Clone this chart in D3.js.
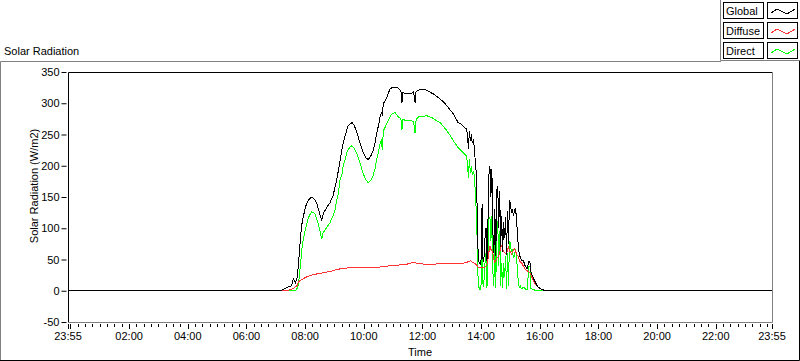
<!DOCTYPE html>
<html>
<head>
<meta charset="utf-8">
<script src="https://cdnjs.cloudflare.com/ajax/libs/d3/7.8.5/d3.min.js"></script>
<style>
body { margin: 0; background: #fff; }
svg { display: block; font-family: "Liberation Sans", Arial, sans-serif; font-size: 11px; }
</style>
</head>
<body>
<div id="chart1"></div>
<script>
// readings, W/m2 (first 23:55 is the previous day)
var times = ["23:55","07:10","07:22","07:32","07:36","07:40","07:44","07:46","07:48","07:51","07:53","07:56",
  "08:00","08:03","08:07","08:10","08:13","08:17","08:20","08:24","08:27","08:30","08:34","08:37","08:44","08:51","08:57",
  "09:01","09:04","09:08","09:11","09:15","09:18","09:22","09:25","09:28","09:32","09:36","09:40","09:45","09:52","09:59",
  "10:04","10:09","10:14","10:19","10:23","10:26","10:30","10:33","10:36","10:38","10:40","10:44","10:47","10:50","10:54","10:58",
  "11:04","11:08","11:11","11:16","11:18","11:20","11:24","11:31","11:38","11:42","11:45","11:47","11:52",
  "12:00","12:09","12:15","12:22","12:29","12:36","12:43","12:50","12:57",
  "13:03","13:08","13:13","13:18","13:23","13:27","13:30","13:32","13:34","13:36","13:38","13:40","13:42","13:44","13:46","13:48",
  "13:50","13:52","13:54","13:56","13:58",
  "14:00","14:02","14:04","14:06","14:08","14:10","14:12","14:14","14:16","14:18","14:20","14:22","14:24","14:26","14:28","14:30",
  "14:32","14:34","14:36","14:38","14:40","14:42","14:44","14:46","14:48","14:50","14:52","14:54","14:56","14:58",
  "15:00","15:02","15:04","15:06","15:08","15:10","15:12","15:14","15:16","15:18","15:20","15:22","15:24","15:26","15:28","15:30",
  "15:34","15:38","15:40","15:42","15:46","15:50","15:56",
  "16:02","16:08","16:12","23:55"];

var globalRad = [0,0,5,8,19,13,21,40,59,88,105,117,
  132,139,145,148,149,148,145,139,131,123,112,123,133,141,152,
  165,176,192,206,225,237,248,257,264,267,269,265,256,237,221,
  213,210,215,224,237,251,264,277,285,282,299,305,309,316,323,325,
  326,325,324,320,300,317,316,316,316,318,301,319,321,
  322,321,318,315,311,307,302,296,289,
  283,276,269,267,264,260,259,250,227,256,240,250,236,240,230,208,
  190,130,55,45,42,
  50,139,46,55,85,101,48,110,185,200,150,195,95,60,130,55,
  160,168,100,160,70,120,62,110,85,118,58,128,75,145,
  140,125,130,120,126,132,120,95,72,58,54,50,48,48,45,40,
  35,48,45,30,22,15,6,
  3,1,0,0];

var diffuseRad = [0,0,0,2,4,6,9,13,15,17,18,19,
  21,22,23,24,25,26,26,27,27,27,28,29,30,31,32,
  33,34,34,35,35,36,36,36,37,37,37,37,37,37,37,
  37,37,37,38,38,38,38,38,39,39,39,39,39,40,40,40,
  40,41,41,42,42,42,42,43,45,46,45,44,43,
  43,42,42,42,43,43,43,43,43,
  43,44,44,44,44,45,46,46,47,47,48,47,46,45,44,43,
  42,40,38,38,38,
  38,38,38,38,38,40,42,50,62,72,66,64,60,50,45,48,
  52,53,55,62,68,72,66,63,61,60,58,66,69,64,
  62,59,62,65,67,64,60,56,55,50,46,45,43,40,38,35,
  32,30,28,25,18,12,6,
  3,1,0,0];

var directRad = [0,0,0,0,0,0,4,8,22,45,64,82,
  96,106,117,122,126,125,124,114,107,97,83,93,101,109,120,
  128,142,155,176,185,200,210,221,226,230,232,228,221,205,187,
  178,173,176,184,195,208,222,235,240,225,256,262,268,272,279,283,
  285,281,278,275,258,274,273,272,272,270,252,274,278,
  279,280,278,276,272,269,263,256,248,
  240,235,229,225,221,218,216,205,181,210,188,200,186,192,184,160,
  128,80,12,4,2,
  10,95,6,17,45,60,5,60,115,118,80,120,30,8,80,5,
  108,112,40,95,8,45,4,45,22,55,3,60,8,80,
  75,62,66,52,56,66,58,36,15,5,8,4,3,6,5,3,
  2,40,38,4,2,1,0,
  0,0,0,0];

var xTickLabels = ["23:55","02:00","04:00","06:00","08:00","10:00","12:00","14:00","16:00","18:00","20:00","22:00","23:55"];
var yTicks = [-50,0,50,100,150,200,250,300,350];
var seriesNames = ["Global","Diffuse","Direct"];
var seriesColors = ["#000000","#ff3333","#00ff00"];

// minutes since the 23:55 start
function toMinutes(s, i) {
  var p = s.split(":");
  var m = (+p[0] * 60 + +p[1] + 5) % 1440;
  return (i > 0 && m === 0) ? 1440 : m;
}

var width = 800, height = 361;
var plot = {left: 68, right: 772, top: 72, bottom: 322};

var svg = d3.select("#chart1").append("svg")
  .attr("width", width)
  .attr("height", height);

var x = d3.scaleLinear().domain([0, 1440]).range([plot.left, plot.right]);
var y = d3.scaleLinear().domain([-50, 350]).range([plot.bottom, plot.top]);

// outer panel frame
svg.append("path").attr("d", "M0.5,360.5V61.5H721").attr("fill", "none").attr("stroke", "#808080");
svg.append("path").attr("d", "M0,360.5H799.5V61").attr("fill", "none").attr("stroke", "#000");
svg.append("path").attr("d", "M720.5,0V60.5H800").attr("fill", "none").attr("stroke", "#808080");

svg.append("text")
  .attr("x", 4).attr("y", 55)
  .text("Solar Radiation");

// y axis
var yAxis = d3.axisLeft(y).tickValues(yTicks).tickSize(5).tickPadding(2)
  .tickFormat(d => String(d));
var gy = svg.append("g")
  .attr("transform", "translate(66.5,0)")
  .call(yAxis);
gy.select(".domain").remove();
gy.selectAll("text").style("font-size", "11px").style("font-family", "inherit");

// x axis, minor + major ticks
var majors = xTickLabels.map(toMinutes);
var minors = d3.range(5, 1440, 15).filter(function(m) { return majors.indexOf(m) < 0; });
var gx = svg.append("g").attr("transform", "translate(0," + (plot.bottom + 1) + ")");
gx.selectAll(".minor").data(minors).enter().append("line")
  .attr("x1", d => Math.round(x(d)) + 0.5).attr("x2", d => Math.round(x(d)) + 0.5)
  .attr("y1", 1).attr("y2", 4)
  .attr("stroke", "#000");
gx.selectAll(".major").data(majors).enter().append("line")
  .attr("x1", d => Math.round(x(d)) + 0.5).attr("x2", d => Math.round(x(d)) + 0.5)
  .attr("y1", 1).attr("y2", 6)
  .attr("stroke", "#000");
// 00:00 tick beside the start
gx.append("line")
  .attr("x1", Math.round(x(5)) + 0.5).attr("x2", Math.round(x(5)) + 0.5)
  .attr("y1", 1).attr("y2", 6)
  .attr("stroke", "#000");
gx.selectAll(".lbl").data(xTickLabels).enter().append("text")
  .attr("x", (d, i) => x(toMinutes(d, i)))
  .attr("y", 17)
  .attr("text-anchor", "middle")
  .text(d => d);

svg.append("text")
  .attr("x", (plot.left + plot.right) / 2).attr("y", 356)
  .attr("text-anchor", "middle")
  .text("Time");

svg.append("text")
  .attr("transform", "translate(38,186)rotate(-90)")
  .attr("text-anchor", "middle")
  .text("Solar Radiation (W/m2)");

// data lines
var line = d3.line()
  .x(d => x(d.t))
  .y(d => y(d.v));

var series = [globalRad, diffuseRad, directRad];
var order = [2, 1, 0];
order.forEach(function(k) {
  var pts = times.map(function(t, i) { return {t: toMinutes(t, i), v: series[k][i]}; });
  svg.append("path")
    .datum(pts)
    .attr("fill", "none")
    .attr("stroke", seriesColors[k])
    .attr("stroke-width", 1)
    .attr("shape-rendering", "crispEdges")
    .attr("d", line);
});

// plot frame
svg.append("path")
  .attr("d", "M" + (plot.left + 0.5) + "," + (plot.bottom + 0.5) + "V" + (plot.top + 0.5) + "H" + (plot.right + 0.5))
  .attr("fill", "none").attr("stroke", "#000");
svg.append("path")
  .attr("d", "M" + (plot.left + 1) + "," + (plot.bottom + 0.5) + "H" + (plot.right + 0.5) + "V" + (plot.top + 1))
  .attr("fill", "none").attr("stroke", "#808080");

// legend
var leg = svg.selectAll(".leg").data(seriesNames).enter().append("g")
  .attr("transform", (d, i) => "translate(723," + (2 + i * 20) + ")");
leg.append("rect")
  .attr("x", 0.5).attr("y", 0.5).attr("width", 40).attr("height", 16)
  .attr("fill", "#fff").attr("stroke", "#000");
leg.append("text")
  .attr("x", 3).attr("y", 13)
  .text(d => d);
leg.append("rect")
  .attr("x", 44.5).attr("y", 0.5).attr("width", 30).attr("height", 16)
  .attr("fill", "#fff").attr("stroke", "#000");
leg.append("path")
  .attr("d", "M48,11L54,7L64,12L72,7")
  .attr("fill", "none")
  .attr("shape-rendering", "crispEdges")
  .attr("stroke", (d, i) => seriesColors[i]);
</script>
</body>
</html>
